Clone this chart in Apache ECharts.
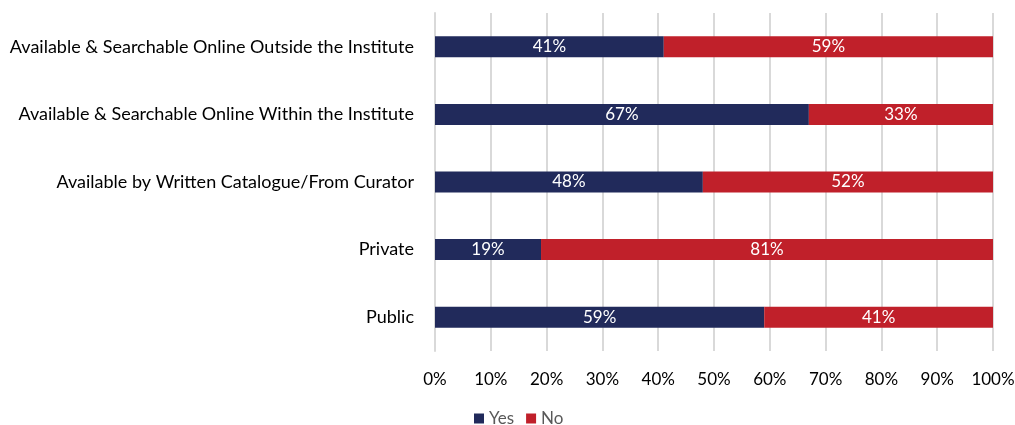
<!DOCTYPE html>
<html>
<head>
<meta charset="utf-8">
<script src="https://cdn.jsdelivr.net/npm/echarts@6/dist/echarts.min.js"></script>
<style>
  html, body { margin: 0; padding: 0; background: #fff; }
  #chart { width: 1015px; height: 425px; }
</style>
</head>
<body>
<div id="chart"></div>
<script>
// Access categories, listed bottom to top as the category axis draws them
const categories = [
  'Public',
  'Private',
  'Available by Written Catalogue/From Curator',
  'Available & Searchable Online Within the Institute',
  'Available & Searchable Online Outside the Institute'
];
const yesValues = [59, 19, 48, 67, 41];
const noValues = [41, 81, 52, 33, 59];
const xTicks = [0, 10, 20, 30, 40, 50, 60, 70, 80, 90, 100];

const FONT = 'Lato, "Open Sans", sans-serif';

const chart = echarts.init(document.getElementById('chart'));

const labelStyle = {
  show: true,
  position: 'inside',
  color: '#ffffff',
  fontFamily: FONT,
  fontSize: 17,
  formatter: p => p.value + '%'
};

chart.setOption({
  animation: false,
  grid: {
    left: 435, right: 22, top: 13, bottom: 74,
    containLabel: false,
    outerBoundsMode: 'none'
  },
  legend: {
    top: 405,
    left: 469,
    itemWidth: 10,
    itemHeight: 10,
    itemGap: 12,
    icon: 'rect',
    textStyle: { color: '#595959', fontFamily: FONT, fontSize: 17 },
    data: ['Yes', 'No']
  },
  xAxis: {
    type: 'value',
    min: xTicks[0],
    max: xTicks[xTicks.length - 1],
    interval: 10,
    axisLine: { show: false },
    axisTick: { show: false },
    splitLine: { show: true, lineStyle: { color: '#d9d9d9', width: 2 } },
    axisLabel: {
      margin: 20,
      color: '#000000',
      fontFamily: FONT,
      fontSize: 17,
      formatter: v => v + '%'
    }
  },
  yAxis: {
    type: 'category',
    data: categories,
    axisLine: { show: true, lineStyle: { color: '#d9d9d9', width: 2 } },
    axisTick: { show: false },
    axisLabel: {
      margin: 21,
      color: '#000000',
      fontFamily: FONT,
      fontSize: 18
    }
  },
  series: [
    {
      name: 'Yes',
      type: 'bar',
      stack: 'total',
      barWidth: 21,
      data: yesValues,
      itemStyle: { color: '#212a5b' },
      label: labelStyle
    },
    {
      name: 'No',
      type: 'bar',
      stack: 'total',
      barWidth: 21,
      data: noValues,
      itemStyle: { color: '#c0202a' },
      label: labelStyle
    }
  ]
});
</script>
</body>
</html>
